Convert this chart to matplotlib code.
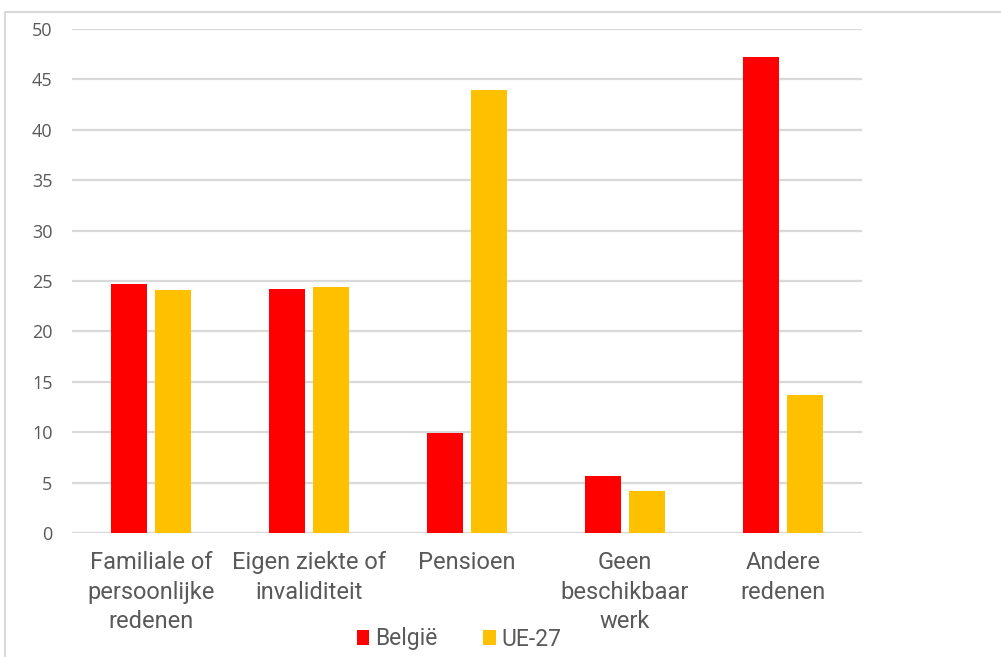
import matplotlib
matplotlib.use("Agg")
import matplotlib.pyplot as plt
from matplotlib.patches import Rectangle
import numpy as np

categories = [
    "Familiale of\npersoonlijke\nredenen",
    "Eigen ziekte of\ninvaliditeit",
    "Pensioen",
    "Geen\nbeschikbaar\nwerk",
    "Andere\nredenen",
]
belgie = [24.7, 24.2, 9.9, 5.7, 47.2]
ue27 = [24.1, 24.4, 43.9, 4.2, 13.7]
yticks = [0, 5, 10, 15, 20, 25, 30, 35, 40, 45, 50]

red = "#FF0000"
gold = "#FFC000"
grid_c = "#D9D9D9"
text_c = "#595959"

plt.rcParams["font.family"] = ["Roboto", "DejaVu Sans"]

W, H = 1001, 657
fig = plt.figure(figsize=(W / 100, H / 100), dpi=100)

# outer chart frame
fig.patches.append(Rectangle((5 / W, -0.1), 1.2, 1 - 12 / H + 0.1,
                             transform=fig.transFigure, fill=False,
                             edgecolor=grid_c, linewidth=1.5))

ax = fig.add_axes([72 / W, (H - 533) / H, 790 / W, 504 / H])

x = np.arange(len(categories))
bw = 0.228
off = 0.142
ax.bar(x - off, belgie, bw, color=red, zorder=3, label="België")
ax.bar(x + off, ue27, bw, color=gold, zorder=3, label="UE-27")

ax.set_xlim(-0.5, len(categories) - 0.5)
ax.set_ylim(0, 50)
ax.set_yticks(yticks)
ax.set_yticklabels([str(v) for v in yticks], fontsize=13, color=text_c,
                   family=["Open Sans", "DejaVu Sans"])
ax.yaxis.grid(True, color=grid_c, linewidth=1.6, zorder=0)
ax.set_axisbelow(True)
ax.tick_params(axis="y", length=0, pad=14)
ax.tick_params(axis="x", length=0, pad=13)
ax.set_xticks(x)
ax.set_xticklabels(categories, fontsize=17, color=text_c, linespacing=1.36)
for s in ax.spines.values():
    s.set_visible(False)
ax.axhline(0, color=grid_c, linewidth=1.6, zorder=1)

fig.legend(loc="center", bbox_to_anchor=(459 / W, 1 - 639 / H), ncol=2,
           frameon=False, fontsize=16.5, labelcolor=text_c,
           handlelength=0.55, handleheight=0.6, handletextpad=0.25,
           columnspacing=2.0)

fig.savefig("out.png", dpi=100)
